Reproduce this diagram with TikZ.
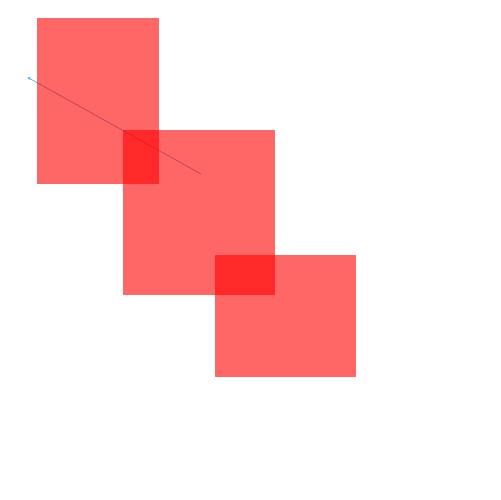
\documentclass[tikz,border=0pt]{standalone}
\usepackage{tikz}
\usetikzlibrary{arrows.meta}
\definecolor{lineblue}{RGB}{80,175,230}

\begin{document}
\begin{tikzpicture}[
   x=0.02cm,y=-0.02cm,
   sheet/.style={fill=red,fill opacity=0.6,draw=none},
   arr/.style={-{Latex[length=0.7mm,width=0.6mm]},lineblue,line width=0.4pt}
 ]
  \useasboundingbox (0,0) rectangle (500,500);
  \coordinate (tail) at (201,174);
  \coordinate (tip) at (27,77);
  \draw[arr] (tail) -- (tip);
  \fill[sheet] (37,18) rectangle (159,184);
  \fill[sheet] (123,130) rectangle (275,295);
  \fill[sheet] (215,255) rectangle (356,377);
 \end{tikzpicture}
\end{document}
